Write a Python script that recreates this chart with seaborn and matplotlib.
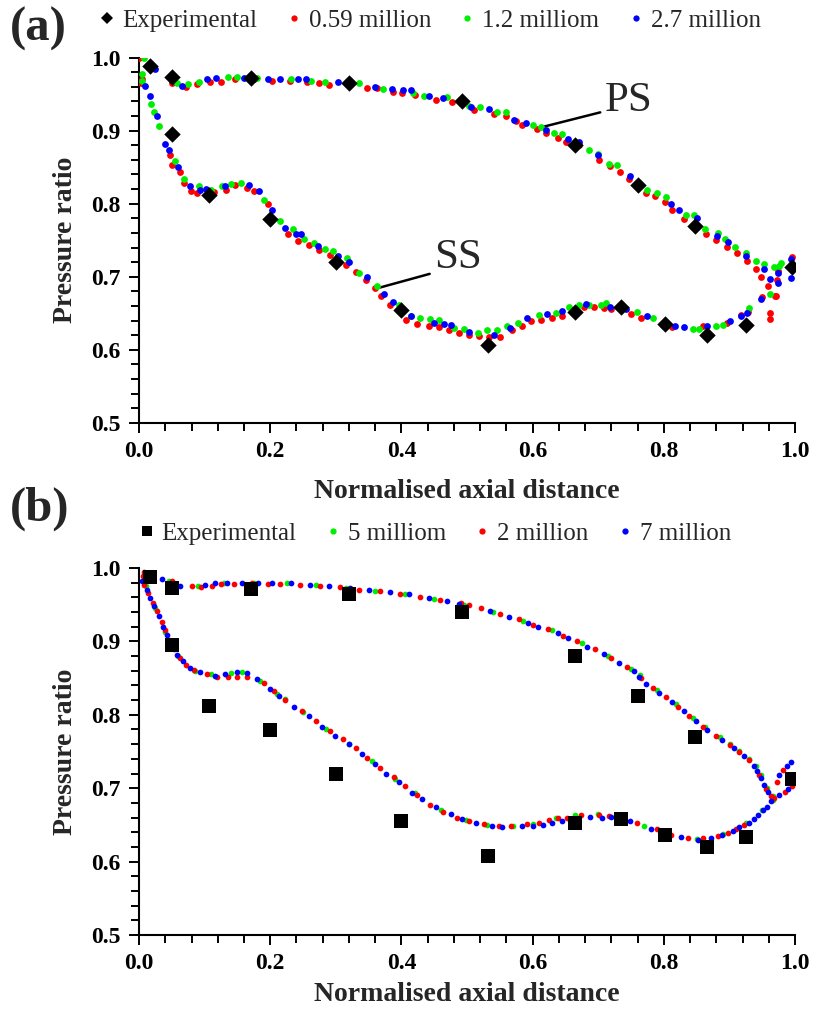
import matplotlib
matplotlib.use("Agg")
import matplotlib.pyplot as plt
import seaborn as sns
import pandas as pd
from matplotlib.ticker import MultipleLocator, FormatStrFormatter
from matplotlib.lines import Line2D

# ---------------- data ----------------
# Experimental (same in both panels)
exp_x = [0.017, 0.050, 0.050, 0.107, 0.170, 0.200, 0.300, 0.320, 0.400, 0.492, 0.532,
         0.665, 0.760, 0.848, 0.664, 0.735, 0.801, 0.866, 0.925, 0.996]
exp_y = [0.988, 0.973, 0.895, 0.812, 0.972, 0.779, 0.720, 0.965, 0.655, 0.940, 0.607,
         0.880, 0.825, 0.770, 0.652, 0.658, 0.636, 0.620, 0.634, 0.713]

# ---- panel (a) ----
a059_ps_x = [0.000, 0.050, 0.072, 0.088, 0.108, 0.125, 0.147, 0.175, 0.203, 0.230, 0.256, 0.274,
             0.290, 0.320, 0.348, 0.362, 0.387, 0.401, 0.420, 0.452, 0.477, 0.510, 0.541, 0.559,
             0.574, 0.584, 0.606, 0.621, 0.638, 0.651, 0.671, 0.701, 0.718, 0.733, 0.747, 0.772,
             0.787, 0.802, 0.813, 0.831, 0.864, 0.879, 0.896, 0.911, 0.926, 0.940, 0.948, 0.959,
             0.962, 0.961, 0.969, 0.973, 0.974, 0.996]
a059_ps_y = [1.000, 0.965, 0.960, 0.964, 0.966, 0.967, 0.970, 0.970, 0.968, 0.968, 0.967, 0.965,
             0.962, 0.962, 0.959, 0.959, 0.953, 0.952, 0.949, 0.942, 0.939, 0.928, 0.923, 0.920,
             0.913, 0.908, 0.902, 0.897, 0.890, 0.885, 0.881, 0.860, 0.851, 0.843, 0.834, 0.815,
             0.810, 0.802, 0.791, 0.779, 0.758, 0.750, 0.741, 0.732, 0.721, 0.710, 0.700, 0.687,
             0.651, 0.642, 0.674, 0.696, 0.708, 0.727]
a059_ss_x = [0.003, 0.004, 0.047, 0.051, 0.063, 0.068, 0.079, 0.088, 0.115, 0.133, 0.147, 0.164,
             0.175, 0.197, 0.227, 0.242, 0.259, 0.274, 0.291, 0.316, 0.330, 0.346, 0.359, 0.369,
             0.383, 0.407, 0.424, 0.442, 0.457, 0.472, 0.488, 0.503, 0.518, 0.533, 0.550, 0.569,
             0.583, 0.598, 0.612, 0.629, 0.644, 0.661, 0.678, 0.694, 0.708, 0.720, 0.750, 0.765,
             0.798, 0.812, 0.859, 0.896, 0.917, 0.928, 0.950, 0.971]
a059_ss_y = [0.965, 0.971, 0.867, 0.853, 0.843, 0.829, 0.817, 0.814, 0.816, 0.819, 0.825, 0.822,
             0.818, 0.799, 0.759, 0.749, 0.744, 0.736, 0.730, 0.716, 0.707, 0.695, 0.684, 0.674,
             0.662, 0.641, 0.635, 0.633, 0.631, 0.627, 0.623, 0.620, 0.619, 0.617, 0.618, 0.627,
             0.632, 0.639, 0.641, 0.644, 0.646, 0.653, 0.658, 0.659, 0.657, 0.656, 0.649, 0.644,
             0.634, 0.631, 0.632, 0.637, 0.648, 0.652, 0.673, 0.674]

a12_ps_x = [0.007, 0.058, 0.074, 0.092, 0.135, 0.150, 0.180, 0.232, 0.262, 0.284, 0.335, 0.372,
            0.418, 0.434, 0.470, 0.503, 0.520, 0.546, 0.560, 0.601, 0.613, 0.633, 0.645, 0.686,
            0.700, 0.717, 0.729, 0.775, 0.789, 0.803, 0.834, 0.846, 0.863, 0.883, 0.893, 0.909,
            0.925, 0.941, 0.953, 0.968, 0.976, 0.979]
a12_ps_y = [1.000, 0.965, 0.964, 0.967, 0.973, 0.974, 0.972, 0.970, 0.968, 0.966, 0.965, 0.957,
            0.951, 0.948, 0.946, 0.934, 0.933, 0.926, 0.925, 0.908, 0.905, 0.897, 0.895, 0.874,
            0.868, 0.855, 0.853, 0.819, 0.815, 0.809, 0.785, 0.784, 0.765, 0.760, 0.752, 0.741,
            0.732, 0.722, 0.717, 0.714, 0.715, 0.719]
a12_ss_x = [0.004, 0.005, 0.019, 0.023, 0.031, 0.055, 0.069, 0.092, 0.109, 0.126, 0.140, 0.156,
            0.190, 0.215, 0.234, 0.252, 0.267, 0.284, 0.296, 0.317, 0.336, 0.363, 0.396, 0.414,
            0.429, 0.444, 0.457, 0.480, 0.495, 0.516, 0.531, 0.546, 0.561, 0.577, 0.609, 0.635,
            0.655, 0.671, 0.686, 0.704, 0.711, 0.759, 0.784, 0.844, 0.854, 0.879, 0.890, 0.930,
            0.962]
a12_ss_y = [0.977, 0.968, 0.936, 0.926, 0.907, 0.858, 0.834, 0.824, 0.819, 0.824, 0.827, 0.829,
            0.805, 0.777, 0.765, 0.752, 0.746, 0.738, 0.735, 0.726, 0.705, 0.688, 0.662, 0.646,
            0.643, 0.642, 0.641, 0.630, 0.628, 0.623, 0.627, 0.627, 0.632, 0.637, 0.648, 0.651,
            0.659, 0.662, 0.662, 0.662, 0.664, 0.652, 0.643, 0.629, 0.629, 0.633, 0.634, 0.657,
            0.677]

a27_ps_x = [0.024, 0.065, 0.103, 0.118, 0.160, 0.197, 0.215, 0.242, 0.255, 0.303, 0.360, 0.386,
            0.403, 0.414, 0.442, 0.464, 0.506, 0.533, 0.571, 0.590, 0.621, 0.654, 0.670, 0.699,
            0.748, 0.811, 0.823, 0.851, 0.881, 0.897, 0.925, 0.953, 0.961, 0.974, 0.993]
a27_ps_y = [0.985, 0.961, 0.971, 0.972, 0.972, 0.971, 0.971, 0.971, 0.970, 0.966, 0.960, 0.957,
            0.956, 0.955, 0.947, 0.944, 0.932, 0.929, 0.915, 0.911, 0.901, 0.889, 0.885, 0.867,
            0.838, 0.800, 0.791, 0.780, 0.756, 0.747, 0.729, 0.710, 0.697, 0.705, 0.724]
a27_ss_x = [0.009, 0.016, 0.027, 0.040, 0.045, 0.060, 0.077, 0.093, 0.102, 0.131, 0.168, 0.183,
            0.202, 0.222, 0.239, 0.247, 0.273, 0.304, 0.320, 0.348, 0.373, 0.387, 0.415, 0.449,
            0.465, 0.475, 0.503, 0.541, 0.565, 0.592, 0.622, 0.644, 0.681, 0.718, 0.742, 0.774,
            0.817, 0.831, 0.866, 0.901, 0.918, 0.927, 0.948, 0.974, 0.993]
a27_ss_y = [0.961, 0.947, 0.920, 0.882, 0.873, 0.850, 0.824, 0.819, 0.820, 0.824, 0.826, 0.817,
            0.791, 0.767, 0.758, 0.758, 0.742, 0.728, 0.720, 0.700, 0.677, 0.666, 0.646, 0.637,
            0.635, 0.634, 0.625, 0.621, 0.630, 0.643, 0.649, 0.653, 0.663, 0.659, 0.656, 0.646,
            0.633, 0.631, 0.632, 0.640, 0.647, 0.650, 0.669, 0.692, 0.698]

# ---- panel (b) ----
b5_ps_x = [0.015, 0.045, 0.090, 0.130, 0.175, 0.225, 0.270, 0.315, 0.360, 0.405, 0.450, 0.495,
           0.540, 0.585, 0.630, 0.675, 0.715, 0.750, 0.764, 0.790, 0.818, 0.845, 0.862, 0.885,
           0.900, 0.915, 0.930, 0.940, 0.948, 0.957, 0.966]
b5_ps_y = [0.992, 0.982, 0.976, 0.979, 0.980, 0.979, 0.977, 0.973, 0.969, 0.964, 0.958, 0.950,
           0.940, 0.928, 0.915, 0.898, 0.880, 0.862, 0.854, 0.834, 0.815, 0.796, 0.784, 0.770,
           0.760, 0.751, 0.740, 0.730, 0.718, 0.700, 0.690]
b5_ss_x = [0.010, 0.025, 0.040, 0.060, 0.085, 0.110, 0.140, 0.157, 0.185, 0.210, 0.222, 0.250,
           0.285, 0.320, 0.355, 0.390, 0.420, 0.460, 0.498, 0.530, 0.570, 0.600, 0.635, 0.665,
           0.700, 0.735, 0.770, 0.800, 0.850, 0.890, 0.925, 0.950, 0.966]
b5_ss_y = [0.975, 0.945, 0.913, 0.880, 0.860, 0.855, 0.857, 0.858, 0.846, 0.828, 0.822, 0.804,
           0.781, 0.760, 0.737, 0.713, 0.694, 0.670, 0.657, 0.650, 0.649, 0.651, 0.659, 0.663,
           0.665, 0.660, 0.649, 0.640, 0.631, 0.637, 0.653, 0.670, 0.684]

b2_ps_x = [0.007, 0.022, 0.050, 0.080, 0.095, 0.111, 0.125, 0.144, 0.172, 0.197, 0.215, 0.246,
           0.276, 0.306, 0.335, 0.368, 0.398, 0.429, 0.459, 0.490, 0.503, 0.521, 0.550, 0.579,
           0.600, 0.624, 0.646, 0.668, 0.695, 0.720, 0.744, 0.765, 0.783, 0.803, 0.821, 0.839,
           0.859, 0.879, 0.900, 0.915, 0.930, 0.945, 0.956, 0.963, 0.972, 0.981]
b2_ps_y = [0.995, 0.992, 0.982, 0.975, 0.974, 0.976, 0.978, 0.978, 0.979, 0.978, 0.978, 0.977,
           0.976, 0.974, 0.970, 0.968, 0.965, 0.961, 0.957, 0.952, 0.949, 0.945, 0.938, 0.930,
           0.922, 0.917, 0.908, 0.900, 0.889, 0.877, 0.865, 0.850, 0.836, 0.824, 0.811, 0.799,
           0.784, 0.771, 0.759, 0.750, 0.738, 0.718, 0.699, 0.689, 0.709, 0.725]
b2_ss_x = [0.006, 0.008, 0.014, 0.021, 0.027, 0.035, 0.040, 0.046, 0.053, 0.062, 0.072, 0.084,
           0.103, 0.119, 0.136, 0.150, 0.164, 0.190, 0.205, 0.223, 0.248, 0.270, 0.291, 0.311,
           0.330, 0.348, 0.368, 0.388, 0.406, 0.424, 0.444, 0.464, 0.485, 0.503, 0.526, 0.549,
           0.567, 0.592, 0.610, 0.625, 0.638, 0.653, 0.673, 0.701, 0.716, 0.738, 0.759, 0.790,
           0.811, 0.837, 0.859, 0.882, 0.897, 0.910, 0.922, 0.968, 0.984, 0.995]
b2_ss_y = [0.989, 0.977, 0.966, 0.952, 0.941, 0.927, 0.915, 0.902, 0.890, 0.877, 0.868, 0.861,
           0.856, 0.852, 0.852, 0.852, 0.852, 0.843, 0.832, 0.820, 0.805, 0.792, 0.778, 0.767,
           0.755, 0.741, 0.728, 0.715, 0.703, 0.691, 0.677, 0.668, 0.660, 0.655, 0.651, 0.649,
           0.649, 0.651, 0.653, 0.657, 0.659, 0.660, 0.664, 0.664, 0.662, 0.659, 0.653, 0.645,
           0.636, 0.632, 0.632, 0.635, 0.639, 0.644, 0.650, 0.686, 0.695, 0.703]

b7_ps_x = [0.011, 0.035, 0.063, 0.101, 0.116, 0.134, 0.157, 0.182, 0.203, 0.231, 0.260, 0.289,
           0.322, 0.350, 0.382, 0.411, 0.442, 0.469, 0.488, 0.535, 0.564, 0.593, 0.608, 0.639,
           0.654, 0.683, 0.708, 0.732, 0.754, 0.762, 0.773, 0.793, 0.812, 0.830, 0.849, 0.866,
           0.889, 0.907, 0.922, 0.937, 0.942, 0.948, 0.953, 0.958, 0.975, 0.987, 0.994]
b7_ps_y = [0.993, 0.985, 0.976, 0.977, 0.979, 0.980, 0.980, 0.980, 0.980, 0.980, 0.977, 0.975,
           0.973, 0.970, 0.967, 0.964, 0.959, 0.955, 0.951, 0.942, 0.933, 0.925, 0.920, 0.911,
           0.905, 0.893, 0.883, 0.870, 0.859, 0.852, 0.842, 0.830, 0.817, 0.805, 0.791, 0.779,
           0.766, 0.755, 0.744, 0.730, 0.723, 0.714, 0.705, 0.695, 0.718, 0.730, 0.736]
b7_ss_x = [0.004, 0.012, 0.017, 0.023, 0.031, 0.037, 0.042, 0.050, 0.058, 0.067, 0.078, 0.093,
           0.116, 0.131, 0.149, 0.164, 0.180, 0.200, 0.213, 0.236, 0.259, 0.279, 0.299, 0.320,
           0.340, 0.359, 0.377, 0.396, 0.416, 0.432, 0.452, 0.475, 0.493, 0.513, 0.538, 0.554,
           0.584, 0.601, 0.615, 0.630, 0.645, 0.663, 0.688, 0.706, 0.720, 0.749, 0.780, 0.806,
           0.826, 0.852, 0.872, 0.889, 0.905, 0.915, 0.930, 0.937, 0.943, 0.951, 0.957, 0.963,
           0.976, 0.989]
b7_ss_y = [0.982, 0.970, 0.959, 0.948, 0.934, 0.920, 0.909, 0.895, 0.882, 0.873, 0.864, 0.858,
           0.853, 0.856, 0.858, 0.857, 0.849, 0.835, 0.826, 0.811, 0.798, 0.784, 0.771, 0.760,
           0.746, 0.733, 0.720, 0.708, 0.693, 0.685, 0.675, 0.665, 0.658, 0.652, 0.649, 0.647,
           0.648, 0.648, 0.650, 0.653, 0.656, 0.658, 0.661, 0.660, 0.661, 0.655, 0.645, 0.638,
           0.633, 0.630, 0.632, 0.636, 0.642, 0.647, 0.653, 0.658, 0.664, 0.670, 0.675, 0.682,
           0.691, 0.699]

legend_a = ["Experimental", "0.59 million", "1.2 milliom", "2.7 million"]
legend_b = ["Experimental", "5 milliom", "2 million", "7 million"]

RED, GREEN, BLUE = "#ff0000", "#00ee00", "#0000ff"

# ---------------- plot ----------------
sns.set_style("ticks")
plt.rcParams["font.family"] = ["Liberation Serif", "DejaVu Serif"]

fig = plt.figure(figsize=(8.13, 10.15), dpi=100)
ax_a = fig.add_axes([0.171, 0.5833, 0.807, 0.3600])
ax_b = fig.add_axes([0.171, 0.0788, 0.807, 0.3616])


def sim(ax, xs, ys, color, s, z):
    df = pd.DataFrame({"x": xs, "y": ys})
    sns.scatterplot(data=df, x="x", y="y", ax=ax, color=color, s=s, linewidth=0,
                    marker="o", zorder=z, legend=False)


# panel a
sns.scatterplot(x=exp_x, y=exp_y, ax=ax_a, marker="D", color="black", s=70,
                linewidth=0, zorder=6, legend=False)
sim(ax_a, a059_ps_x + a059_ss_x, a059_ps_y + a059_ss_y, RED, 24, 3)
sim(ax_a, a12_ps_x + a12_ss_x, a12_ps_y + a12_ss_y, GREEN, 24, 4)
sim(ax_a, a27_ps_x + a27_ss_x, a27_ps_y + a27_ss_y, BLUE, 24, 5)

# panel b
sns.scatterplot(x=exp_x, y=exp_y, ax=ax_b, marker="s", color="black", s=95,
                linewidth=0, zorder=6, legend=False)
sim(ax_b, b5_ps_x + b5_ss_x, b5_ps_y + b5_ss_y, GREEN, 17, 3)
sim(ax_b, b2_ps_x + b2_ss_x, b2_ps_y + b2_ss_y, RED, 17, 4)
sim(ax_b, b7_ps_x + b7_ss_x, b7_ps_y + b7_ss_y, BLUE, 17, 5)

for ax, pad in ((ax_a, 12), (ax_b, 6)):
    ax.set_xlim(0, 1.0)
    ax.set_ylim(0.5, 1.0)
    ax.xaxis.set_major_locator(MultipleLocator(0.2))
    ax.xaxis.set_minor_locator(MultipleLocator(0.04))
    ax.yaxis.set_major_locator(MultipleLocator(0.1))
    ax.yaxis.set_minor_locator(MultipleLocator(0.02))
    ax.xaxis.set_major_formatter(FormatStrFormatter("%.1f"))
    ax.yaxis.set_major_formatter(FormatStrFormatter("%.1f"))
    for sp in ("top", "right"):
        ax.spines[sp].set_visible(False)
    for sp in ("left", "bottom"):
        ax.spines[sp].set_linewidth(1.5)
        ax.spines[sp].set_color("black")
    ax.tick_params(which="major", direction="out", length=7, width=1.4,
                   labelsize=17, colors="black", pad=6)
    ax.tick_params(which="minor", direction="out", length=6, width=1.4, colors="black")
    for lab in ax.get_xticklabels() + ax.get_yticklabels():
        lab.set_fontweight("bold")
    ax.set_xlabel("Normalised axial distance", fontsize=20, fontweight="bold", labelpad=pad)
    ax.set_ylabel("Pressure ratio", fontsize=20, fontweight="bold", labelpad=10)


def dot(c, ms=4.5):
    return Line2D([], [], ls="none", marker="o", color=c, markersize=ms, markeredgewidth=0)


h_a = [Line2D([], [], ls="none", marker="D", color="black", markersize=6, markeredgewidth=0),
       dot(RED), dot(GREEN), dot(BLUE)]
fig.legend(h_a, legend_a, loc="center left", bbox_to_anchor=(0.123, 0.980), ncol=4,
           frameon=False, fontsize=18, handlelength=0.6, handletextpad=0.3,
           columnspacing=1.15, borderpad=0, borderaxespad=0)

h_b = [Line2D([], [], ls="none", marker="s", color="black", markersize=7, markeredgewidth=0),
       dot(GREEN), dot(RED), dot(BLUE)]
fig.legend(h_b, legend_b, loc="center left", bbox_to_anchor=(0.171, 0.474), ncol=4,
           frameon=False, fontsize=18, handlelength=0.6, handletextpad=0.3,
           columnspacing=1.15, borderpad=0, borderaxespad=0)

# panel labels
fig.text(0.012, 0.972, "(a)", fontsize=35, fontweight="bold", va="center", ha="left")
fig.text(0.012, 0.499, "(b)", fontsize=35, fontweight="bold", va="center", ha="left")

# PS / SS annotations
ax_a.annotate("", xy=(0.615, 0.905), xytext=(0.703, 0.925),
              arrowprops=dict(arrowstyle="-", lw=1.8, color="black", shrinkA=0, shrinkB=0))
ax_a.text(0.710, 0.941, "PS", fontsize=31, va="center", ha="left")
ax_a.annotate("", xy=(0.366, 0.685), xytext=(0.443, 0.704),
              arrowprops=dict(arrowstyle="-", lw=1.8, color="black", shrinkA=0, shrinkB=0))
ax_a.text(0.450, 0.726, "SS", fontsize=31, va="center", ha="left")

fig.savefig("out.png", dpi=100)
